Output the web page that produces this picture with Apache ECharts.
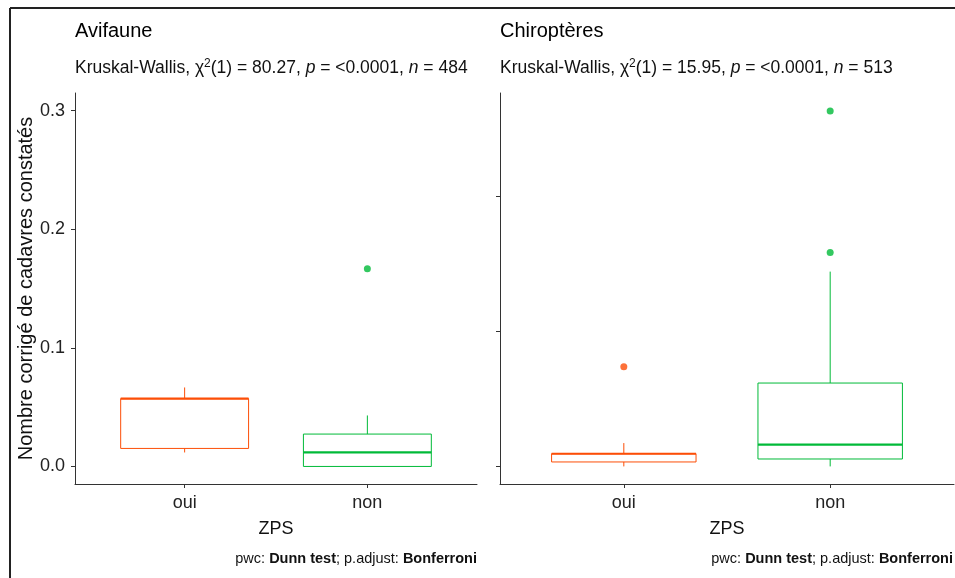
<!DOCTYPE html>
<html>
<head>
<meta charset="utf-8">
<script src="https://cdn.jsdelivr.net/npm/echarts@6/dist/echarts.min.js"></script>
<style>html,body{margin:0;padding:0;background:#fff}#c{width:955px;height:578px}</style>
</head>
<body>
<div id="c"></div>
<script>
// ---- data ----
const categories = ['oui', 'non'];
const catPos = [1, 2];
const panelTitles = ['Avifaune', 'Chiroptères'];
const yTicksAvi = [0, 0.1, 0.2, 0.3];
const yTicksChi = [0, 0.1, 0.2];
// five-number summaries: [min, Q1, median, Q3, max]
const aviOui = [0.0118, 0.0152, 0.0572, 0.0572, 0.0666];
const aviNon = [0, 0, 0.0118, 0.0273, 0.043];
const aviOuiOut = [];
const aviNonOut = [0.1667];
const chiOui = [0, 0.0033, 0.0094, 0.0094, 0.0173];
const chiNon = [0, 0.0055, 0.0161, 0.0618, 0.1444];
const chiOuiOut = [0.0739];
const chiNonOut = [0.1585, 0.2635];

const FONT = "'Liberation Sans', Arial, sans-serif";
const COL_OUI = '#FC4E07';
const COL_NON = '#00BA38';

function renderBox(params, api) {
  const x = api.value(0);
  const color = api.visual('color');
  const pMin = api.coord([x, api.value(1)]);
  const pQ1 = api.coord([x, api.value(2)]);
  const pMd = api.coord([x, api.value(3)]);
  const pQ3 = api.coord([x, api.value(4)]);
  const pMax = api.coord([x, api.value(5)]);
  const half = api.size([0.7, 0])[0] / 2;
  return {
    type: 'group',
    children: [
      {type: 'line', shape: {x1: pMax[0], y1: pMax[1], x2: pQ3[0], y2: pQ3[1]}, style: {stroke: color, lineWidth: 1}},
      {type: 'line', shape: {x1: pQ1[0], y1: pQ1[1], x2: pMin[0], y2: pMin[1]}, style: {stroke: color, lineWidth: 1}},
      {type: 'rect', shape: {x: pQ3[0] - half, y: pQ3[1], width: 2 * half, height: pQ1[1] - pQ3[1]}, style: {fill: 'none', stroke: color, lineWidth: 1}},
      {type: 'line', shape: {x1: pMd[0] - half, y1: pMd[1], x2: pMd[0] + half, y2: pMd[1]}, style: {stroke: color, lineWidth: 2.2}}
    ]
  };
}

function boxSeries(idx, pos, stats, color) {
  return {
    type: 'custom', xAxisIndex: idx, yAxisIndex: idx,
    renderItem: renderBox,
    itemStyle: {color: color},
    encode: {x: 0, y: [1, 2, 3, 4, 5]},
    data: [[pos].concat(stats)],
    silent: true
  };
}
function outSeries(idx, pos, vals, color) {
  return {
    type: 'scatter', xAxisIndex: idx, yAxisIndex: idx,
    symbol: 'circle', symbolSize: 7,
    itemStyle: {color: color},
    data: vals.map(v => [pos, v]),
    silent: true
  };
}

const axisLineStyle = {show: true, onZero: false, lineStyle: {color: '#333', width: 1}};
function xAxis(idx) {
  return {
    type: 'value', gridIndex: idx, min: 0.4, max: 2.6,
    axisLine: axisLineStyle,
    axisTick: {show: true, length: 4, lineStyle: {color: '#333'}, customValues: catPos},
    axisLabel: {customValues: catPos, formatter: v => categories[Math.round(v) - 1], fontSize: 18, color: '#222', fontFamily: FONT, margin: 10},
    splitLine: {show: false},
    name: 'ZPS', nameLocation: 'middle', nameGap: 36,
    nameTextStyle: {fontSize: 18, color: '#111', fontFamily: FONT}
  };
}

const option = {
  backgroundColor: '#fff',
  animation: false,
  grid: [
    {left: 75, top: 93, width: 402, height: 391},
    {left: 500, top: 93, width: 454, height: 391}
  ],
  xAxis: [xAxis(0), xAxis(1)],
  yAxis: [
    {
      type: 'value', gridIndex: 0, min: -0.0148, max: 0.3149,
      axisLine: axisLineStyle,
      axisTick: {show: true, length: 4, lineStyle: {color: '#333'}, customValues: yTicksAvi},
      axisLabel: {customValues: yTicksAvi, formatter: v => v.toFixed(1), fontSize: 18, color: '#222', fontFamily: FONT, margin: 10},
      splitLine: {show: false},
      name: 'Nombre corrigé de cadavres constatés', nameLocation: 'middle', nameGap: 36,
      nameTextStyle: {fontSize: 20, color: '#111', fontFamily: FONT}
    },
    {
      type: 'value', gridIndex: 1, min: -0.01304, max: 0.2768,
      axisLine: axisLineStyle,
      axisTick: {show: true, length: 4, lineStyle: {color: '#333'}, customValues: yTicksChi},
      axisLabel: {show: false},
      splitLine: {show: false}
    }
  ],
  title: [
    {text: panelTitles[0], left: 75, top: 21, padding: 0, textStyle: {fontSize: 20, fontWeight: 'normal', color: '#000', fontFamily: FONT}},
    {text: panelTitles[1], left: 500, top: 21, padding: 0, textStyle: {fontSize: 20, fontWeight: 'normal', color: '#000', fontFamily: FONT}}
  ],
  graphic: [
    {type: 'line', shape: {x1: 10, y1: 8, x2: 10, y2: 578}, style: {stroke: '#222', lineWidth: 2}},
    {type: 'line', shape: {x1: 10, y1: 8, x2: 955, y2: 8}, style: {stroke: '#222', lineWidth: 2}},
    {type: 'text', left: 75, top: 58, style: {
      text: 'Kruskal-Wallis, χ{sup|2}(1) = 80.27, {i|p} = <0.0001, {i|n} = 484',
      fontSize: 17.5, fontFamily: FONT, fill: '#111',
      rich: {sup: {fontSize: 12, fontFamily: FONT, verticalAlign: 'top', padding: [0, 0, 8, 0]}, i: {fontStyle: 'italic', fontSize: 17.5, fontFamily: FONT}}
    }},
    {type: 'text', left: 500, top: 58, style: {
      text: 'Kruskal-Wallis, χ{sup|2}(1) = 15.95, {i|p} = <0.0001, {i|n} = 513',
      fontSize: 17.5, fontFamily: FONT, fill: '#111',
      rich: {sup: {fontSize: 12, fontFamily: FONT, verticalAlign: 'top', padding: [0, 0, 8, 0]}, i: {fontStyle: 'italic', fontSize: 17.5, fontFamily: FONT}}
    }},
    {type: 'text', right: 955 - 477, top: 551, style: {
      text: 'pwc: {b|Dunn test}; p.adjust: {b|Bonferroni}',
      fontSize: 14.5, fontFamily: FONT, fill: '#111',
      rich: {b: {fontWeight: 'bold', fontSize: 14.5, fontFamily: FONT}}
    }},
    {type: 'text', right: 2, top: 551, style: {
      text: 'pwc: {b|Dunn test}; p.adjust: {b|Bonferroni}',
      fontSize: 14.5, fontFamily: FONT, fill: '#111',
      rich: {b: {fontWeight: 'bold', fontSize: 14.5, fontFamily: FONT}}
    }}
  ],
  series: [
    boxSeries(0, catPos[0], aviOui, COL_OUI),
    boxSeries(0, catPos[1], aviNon, COL_NON),
    outSeries(0, catPos[0], aviOuiOut, COL_OUI),
    outSeries(0, catPos[1], aviNonOut, COL_NON),
    boxSeries(1, catPos[0], chiOui, COL_OUI),
    boxSeries(1, catPos[1], chiNon, COL_NON),
    outSeries(1, catPos[0], chiOuiOut, COL_OUI),
    outSeries(1, catPos[1], chiNonOut, COL_NON)
  ]
};

const chart = echarts.init(document.getElementById('c'), null, {renderer: 'canvas'});
chart.setOption(option);
</script>
</body>
</html>
